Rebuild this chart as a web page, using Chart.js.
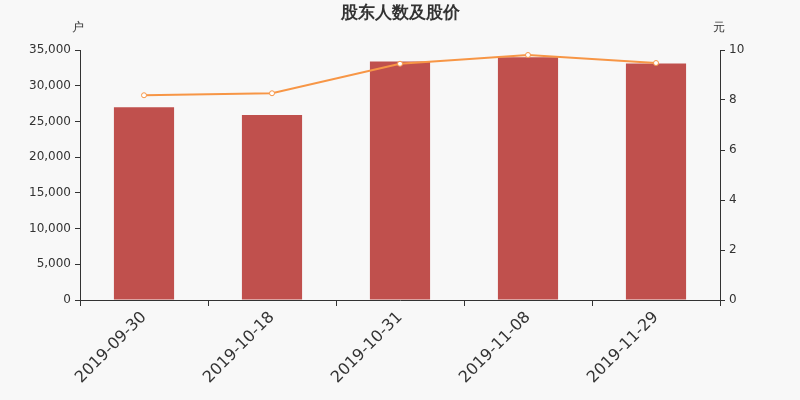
<!DOCTYPE html>
<html>
<head>
<meta charset="utf-8">
<script src="https://cdn.jsdelivr.net/npm/chart.js@4/dist/chart.umd.min.js"></script>
<style>
  html, body { margin: 0; padding: 0; background: #f8f8f8; }
  #wrap { width: 800px; height: 400px; }
</style>
</head>
<body>
<div id="wrap"><canvas id="holderChart"></canvas></div>
<script>
const dates = ['2019-09-30', '2019-10-18', '2019-10-31', '2019-11-08', '2019-11-29'];
const holders = [27000, 25900, 33400, 34000, 33100];
const prices = [8.19, 8.27, 9.45, 9.80, 9.48];

const chartTitle = '股东人数及股价';
const leftUnit = '户';
const rightUnit = '元';

Chart.defaults.font.family = '"DejaVu Sans", sans-serif';
Chart.defaults.color = '#333';

// title and axis units drawn by hand so they sit where the reference has them
const extraText = {
    id: 'extraText',
    afterDraw(chart) {
        const ctx = chart.ctx;
        const area = chart.chartArea;
        ctx.save();
        ctx.fillStyle = '#333';
        ctx.textBaseline = 'middle';
        ctx.textAlign = 'center';
        ctx.font = 'bold 17px "DejaVu Sans", sans-serif';
        ctx.fillText(chartTitle, 400, 14);
        ctx.font = '12px "DejaVu Sans", sans-serif';
        ctx.fillText(leftUnit, area.left - 2, 28);
        ctx.fillText(rightUnit, area.right - 1, 28);
        ctx.restore();
    }
};

const holderChartCtx = document.getElementById('holderChart').getContext('2d');
const holderChart = new Chart(holderChartCtx, {
    data: {
        labels: dates,
        datasets: [{
            type: 'line',
            label: '股价',
            data: prices,
            yAxisID: 'yRight',
            borderColor: '#f79646',
            borderWidth: 2,
            pointRadius: 2.5,
            pointBackgroundColor: '#ffffff',
            pointBorderColor: '#f79646',
            pointBorderWidth: 1,
            tension: 0,
            order: 0
        }, {
            type: 'bar',
            label: '股东人数',
            data: holders,
            yAxisID: 'yLeft',
            backgroundColor: '#c0504d',
            categoryPercentage: 1,
            barPercentage: 0.47,
            order: 1
        }]
    },
    options: {
        responsive: true,
        maintainAspectRatio: false,
        animation: false,
        layout: { padding: { top: 50, left: 0, right: 0, bottom: 0 } },
        plugins: {
            legend: { display: false },
            tooltip: { enabled: false }
        },
        scales: {
            x: {
                grid: { drawOnChartArea: false, drawTicks: true, tickLength: 6, color: '#333', offset: true },
                border: { display: true, color: '#333' },
                ticks: {
                    font: { size: 16 },
                    color: '#333',
                    minRotation: 45,
                    maxRotation: 45,
                    padding: 2
                },
                afterFit(scale) { scale.height = 100; }
            },
            yLeft: {
                position: 'left',
                min: 0,
                max: 35000,
                grid: { drawOnChartArea: false, drawTicks: true, tickLength: 5, color: '#333' },
                border: { display: true, color: '#333' },
                ticks: { stepSize: 5000, font: { size: 12 }, color: '#333', padding: 4 },
                afterFit(scale) { scale.width = 80; }
            },
            yRight: {
                position: 'right',
                min: 0,
                max: 10,
                grid: { drawOnChartArea: false, drawTicks: true, tickLength: 5, color: '#333' },
                border: { display: true, color: '#333' },
                ticks: { stepSize: 2, font: { size: 12 }, color: '#333', padding: 4 },
                afterFit(scale) { scale.width = 80; }
            }
        }
    },
    plugins: [extraText]
});
</script>
</body>
</html>
